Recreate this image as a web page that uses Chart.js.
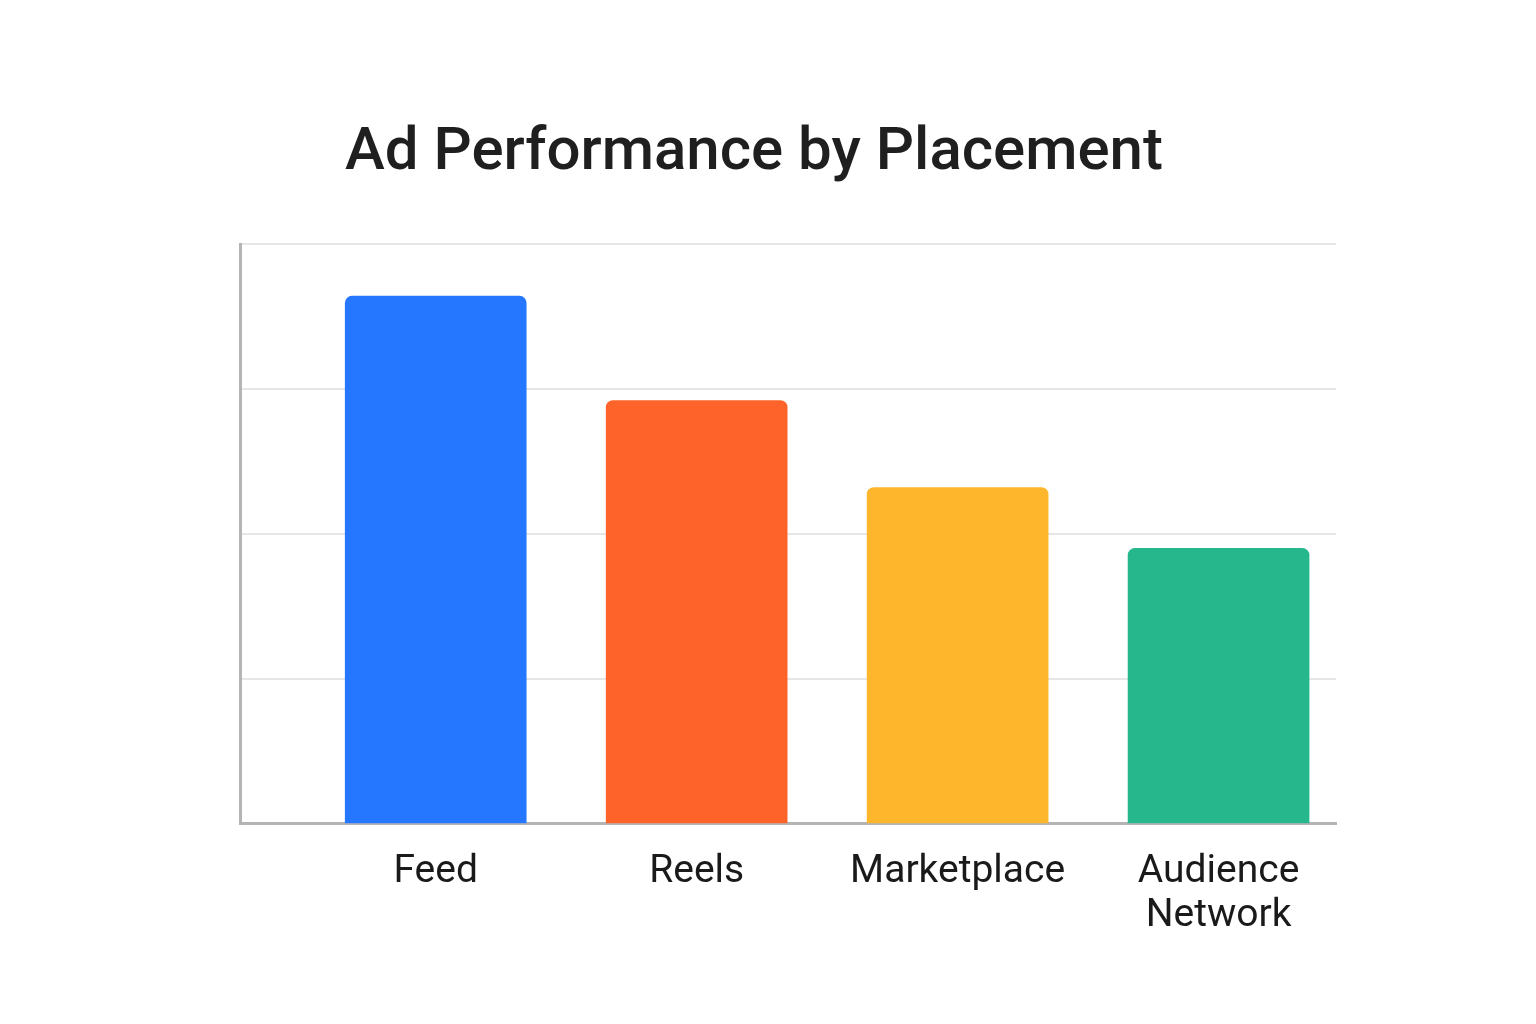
<!DOCTYPE html>
<html>
<head>
<meta charset="utf-8">
<script src="https://cdn.jsdelivr.net/npm/chart.js@4.4.1/dist/chart.umd.min.js"></script>
<style>
  html,body{margin:0;padding:0;background:#fff;}
  #wrap{width:1536px;height:1024px;}
</style>
</head>
<body>
<div id="wrap"><canvas id="c" width="1536" height="1024"></canvas></div>
<script>
const categories=['Feed','Reels','Marketplace',['Audience','Network']];
const values=[91,73,58,47.5];
const barColors=['#2477FE','#FE6429','#FEB62C','#26B78D'];
const yTicks=[0,25,50,75,100];

const FONT='Roboto';

new Chart(document.getElementById('c'),{
  type:'bar',
  data:{datasets:[{
    data:values.map((v,i)=>({x:i,y:v})),
    backgroundColor:barColors,
    borderWidth:0,
    borderRadius:7,
    borderSkipped:'bottom',
    barThickness:181
  }]},
  options:{
    responsive:false,animation:false,devicePixelRatio:1,
    layout:{padding:{left:172,right:200,top:118,bottom:60}},
    plugins:{
      legend:{display:false},tooltip:{enabled:false},
      title:{display:true,text:'Ad Performance by Placement',color:'#1f1f1f',
        font:{family:FONT,size:60,weight:'500'},padding:{top:0,bottom:54}}
    },
    scales:{
      x:{type:'linear',min:-0.75,max:3.45,offset:false,
        grid:{display:false,drawTicks:false},
        border:{display:true,color:'#b4b4b4',width:3},
        ticks:{stepSize:1,includeBounds:false,autoSkip:false,maxRotation:0,padding:26,color:'#1a1a1a',
          font:{family:FONT,size:39,lineHeight:1.13},
          callback:v=>Number.isInteger(v)&&categories[v]!==undefined?categories[v]:''}
      },
      y:{min:yTicks[0],max:yTicks[yTicks.length-1],
        afterBuildTicks:s=>{s.ticks=yTicks.map(v=>({value:v}));},
        afterFit:s=>{s.width=68;},
        ticks:{display:false},
        grid:{color:'#e6e6e6',lineWidth:2,drawTicks:false},
        border:{display:true,color:'#b4b4b4',width:3}
      }
    }
  }
});
</script>
</body>
</html>
